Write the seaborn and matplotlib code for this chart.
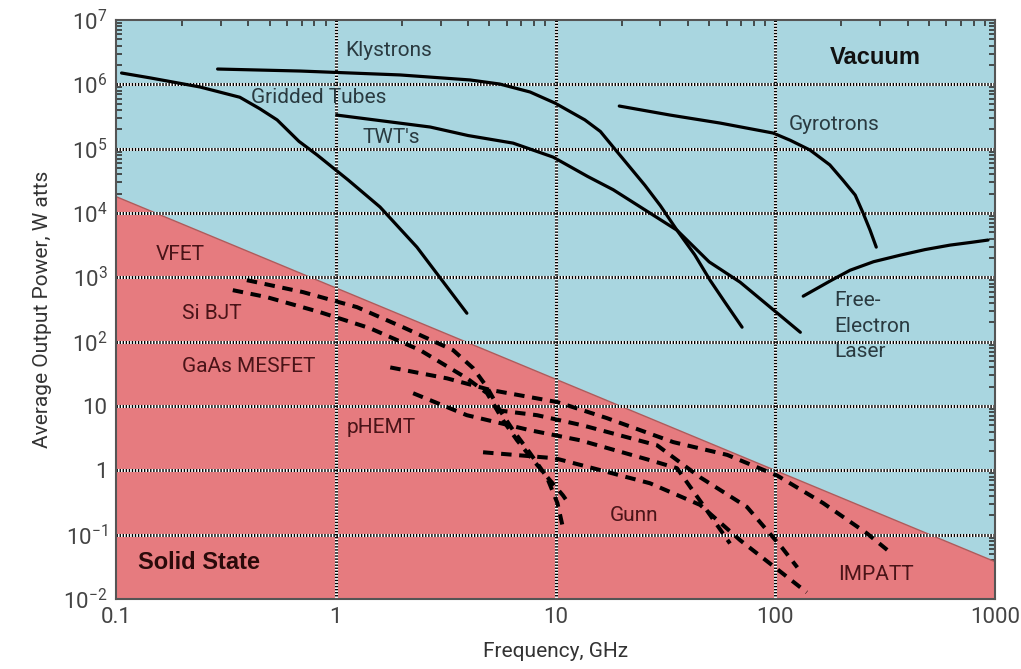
import matplotlib
matplotlib.use('Agg')
import matplotlib.pyplot as plt
import seaborn as sns
from matplotlib.ticker import FixedLocator, FixedFormatter, LogLocator, NullFormatter

sns.set_style('ticks')
plt.rcParams['font.family'] = ['Roboto', 'DejaVu Sans']

# ---- vacuum tube curves (GHz, W) ----
gridded_f = [0.106, 0.143, 0.241, 0.366, 0.45, 0.541, 0.68, 0.822, 1.14, 1.59, 2.34, 3.95]
gridded_p = [1.5e6, 1.26e6, 9.1e5, 6.3e5, 4.2e5, 2.8e5, 1.3e5, 8.0e4, 3.25e4, 1.24e4, 2950, 277]

klystron_f = [0.29, 0.69, 1.96, 4.08, 5.58, 7.66, 9.96, 13.6, 16, 18.3, 25.5, 30, 35.7, 43, 50.5, 59, 70.6]
klystron_p = [1.73e6, 1.61e6, 1.40e6, 1.17e6, 1.01e6, 7.6e5, 5.1e5, 2.8e5, 1.85e5, 1.06e5,
              2.7e4, 1.3e4, 5400, 2240, 900, 410, 168]

twt_f = [1.01, 2.69, 4.0, 6.41, 9.75, 14, 18.3, 35.7, 50, 69.2, 130]
twt_p = [3.33e5, 2.17e5, 1.6e5, 1.22e5, 7.4e4, 3.7e4, 2.3e4, 5400, 1740, 840, 140]

gyro_f = [19.5, 33.2, 56.1, 97.7, 117, 144, 177, 203, 231, 251, 270, 288]
gyro_p = [4.6e5, 3.33e5, 2.5e5, 1.75e5, 1.35e5, 9.5e4, 5.6e4, 3.25e4, 1.9e4, 9950, 5400, 2950]

fel_f = [134, 180, 219, 280, 370, 480, 624, 780, 929]
fel_p = [510, 900, 1290, 1750, 2210, 2700, 3170, 3500, 3800]

# ---- solid state curves ----
bjt1_f = [0.394, 0.710, 1.25, 2.02, 3.42, 4.22, 4.88, 5.58, 6.41, 7.66, 9.14, 10.2, 10.8]
bjt1_p = [904, 589, 344, 168, 73.8, 38.7, 19.6, 8.6, 4.2, 1.85, 0.78, 0.31, 0.13]

bjt2_f = [0.340, 0.486, 0.847, 1.43, 2.42, 3.95, 4.88, 5.77, 6.68, 7.91, 9.44, 10.8, 11.6]
bjt2_p = [632, 492, 288, 162, 73.8, 27.0, 15.8, 6.0, 2.94, 1.44, 0.70, 0.41, 0.29]

mesfet_f = [1.77, 3.21, 5.04, 10.2, 17.1, 34.3, 60.4, 102, 165, 261, 323]
mesfet_p = [39.8, 26.9, 17.8, 11.5, 6.5, 2.75, 1.74, 0.83, 0.31, 0.105, 0.058]

phemt_f = [2.25, 3.95, 7.66, 12.9, 26.9, 35.7, 46.9, 62.2]
phemt_p = [15.8, 7.2, 4.2, 2.94, 1.44, 1.08, 0.29, 0.073]

gunn_f = [4.68, 9.95, 14.8, 26.9, 45.5, 69.2, 108, 139]
gunn_p = [1.91, 1.54, 1.08, 0.63, 0.29, 0.082, 0.025, 0.0127]

impatt_f = [5.42, 8.24, 13.3, 29.0, 45.5, 74.3, 108, 126]
impatt_p = [8.6, 7.2, 5.0, 2.45, 0.78, 0.27, 0.061, 0.031]

# boundary between solid state and vacuum regions
boundary_f = [0.1, 1000]
boundary_p = [1.8e4, 3.8e-2]

x_ticks = [0.1, 1, 10, 100, 1000]
x_labels = ['0.1', '1', '10', '100', '1000']
y_ticks = [1e-2, 1e-1, 1, 10, 1e2, 1e3, 1e4, 1e5, 1e6, 1e7]
y_labels = ['10$^{\\mathregular{-2}}$', '10$^{\\mathregular{-1}}$', '1', '10',
            '10$^{\\mathregular{2}}$', '10$^{\\mathregular{3}}$', '10$^{\\mathregular{4}}$',
            '10$^{\\mathregular{5}}$', '10$^{\\mathregular{6}}$', '10$^{\\mathregular{7}}$']

blue = '#a9d6e0'
red = '#e67b7f'

fig = plt.figure(figsize=(10.21, 6.69), dpi=100)
ax = fig.add_axes([0.1136, 0.1046, 0.861, 0.8655])
ax.set_xscale('log')
ax.set_yscale('log')
ax.set_xlim(0.1, 1000)
ax.set_ylim(1e-2, 1e7)
ax.set_facecolor(blue)

ax.fill_between(boundary_f, boundary_p, 1e-2, color=red, lw=0, zorder=1)
ax.plot(boundary_f, boundary_p, color='#b05a5a', lw=1, zorder=1.5)

# dotted grid: white underlay with black dots
for v in y_ticks[1:-1]:
    ax.axhline(v, color='white', lw=2.2, zorder=2)
    ax.axhline(v, color='black', lw=2.2, ls=(0, (0.45, 0.55)), zorder=2.1)
for v in x_ticks[1:-1]:
    ax.axvline(v, color='white', lw=2.2, zorder=2)
    ax.axvline(v, color='black', lw=2.2, ls=(0, (0.45, 0.55)), zorder=2.1)

solid = [(gridded_f, gridded_p), (klystron_f, klystron_p), (twt_f, twt_p),
         (gyro_f, gyro_p), (fel_f, fel_p)]
for f, p in solid:
    sns.lineplot(x=f, y=p, ax=ax, color='black', lw=2.3, sort=False,
                 estimator=None, zorder=3)

dashed = [(bjt1_f, bjt1_p), (bjt2_f, bjt2_p), (mesfet_f, mesfet_p),
          (phemt_f, phemt_p), (gunn_f, gunn_p), (impatt_f, impatt_p)]
for f, p in dashed:
    sns.lineplot(x=f, y=p, ax=ax, color='black', lw=2.9, sort=False,
                 estimator=None, zorder=3)
    ax.lines[-1].set_linestyle((0, (2.6, 1.9)))

# labels
blue_txt = '#2a3a40'
red_txt = '#4a1418'
fs = 15
ax.text(1.1, 10**6.52, 'Klystrons', fontsize=fs, color=blue_txt, va='center')
ax.text(0.41, 10**5.80, 'Gridded Tubes', fontsize=fs, color=blue_txt, va='center')
ax.text(1.32, 10**5.18, "TWT's", fontsize=fs, color=blue_txt, va='center')
ax.text(115, 10**5.38, 'Gyrotrons', fontsize=fs, color=blue_txt, va='center')
ax.text(186, 10**2.24, 'Free-\nElectron\nLaser', fontsize=fs, color=blue_txt,
        va='center', linespacing=1.45)
ax.text(284, 10**6.41, 'Vacuum', fontsize=17, color='#111111', va='center',
        ha='center', fontweight='bold', family=['Liberation Sans', 'DejaVu Sans'])
ax.text(0.151, 10**3.35, 'VFET', fontsize=fs, color=red_txt, va='center')
ax.text(0.2, 10**2.44, 'Si BJT', fontsize=fs, color=red_txt, va='center')
ax.text(0.2, 10**1.62, 'GaAs MESFET', fontsize=fs, color=red_txt, va='center')
ax.text(1.12, 10**0.67, 'pHEMT', fontsize=fs, color=red_txt, va='center')
ax.text(17.7, 10**-0.70, 'Gunn', fontsize=fs, color=red_txt, va='center')
ax.text(193, 10**-1.62, 'IMPATT', fontsize=fs, color=red_txt, va='center')
ax.text(0.126, 10**-1.43, 'Solid State', fontsize=17, color='#2a0a0a', va='center',
        fontweight='bold', family=['Liberation Sans', 'DejaVu Sans'])

# axes, ticks
ax.xaxis.set_major_locator(FixedLocator(x_ticks))
ax.xaxis.set_major_formatter(FixedFormatter(x_labels))
ax.yaxis.set_major_locator(FixedLocator(y_ticks))
ax.yaxis.set_major_formatter(FixedFormatter(y_labels))
ax.xaxis.set_minor_locator(LogLocator(base=10, subs=range(2, 10), numticks=20))
ax.yaxis.set_minor_locator(LogLocator(base=10, subs=range(2, 10), numticks=20))
ax.xaxis.set_minor_formatter(NullFormatter())
ax.yaxis.set_minor_formatter(NullFormatter())
ax.tick_params(which='both', direction='in', top=True, right=True,
               color='#333333', width=1.2)
ax.tick_params(which='major', length=7, labelsize=16, labelcolor='#444444', pad=6)
ax.tick_params(which='minor', length=4)
for s in ax.spines.values():
    s.set_color('#555555')
    s.set_linewidth(1.5)
    s.set_zorder(4)

ax.set_xlabel('Frequency, GHz', fontsize=15, color='#333333', labelpad=10)
ax.set_ylabel('Average Output Power, W atts', fontsize=15, color='#333333', labelpad=8)

fig.savefig('out.png', dpi=100)
